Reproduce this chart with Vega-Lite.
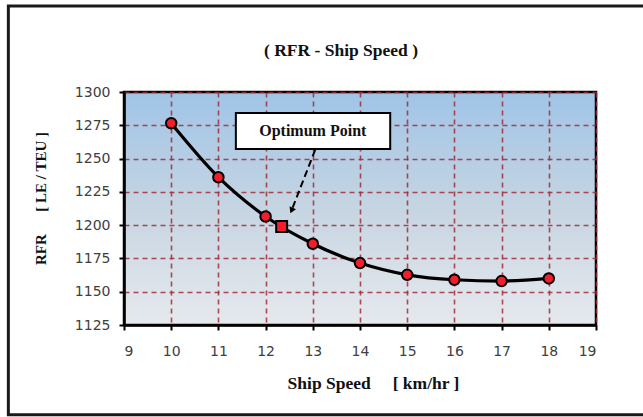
{
  "$schema": "https://vega.github.io/schema/vega-lite/v6.json",
  "autosize": "none",
  "width": 472,
  "height": 233,
  "padding": {"left": 124, "top": 92, "right": 47, "bottom": 92},
  "background": "white",
  "config": {
    "view": {
      "stroke": "#000000",
      "strokeWidth": 2.5,
      "fill": {"gradient": "linear", "x1": 0, "y1": 0, "x2": 0, "y2": 1, "stops": [{"offset": 0, "color": "#A0C4E7"}, {"offset": 0.5, "color": "#C6D5E2"}, {"offset": 1, "color": "#E6E9ED"}]}
    },
    "axis": {
      "labelFont": "DejaVu Sans",
      "labelFontSize": 14,
      "labelColor": "#404040",
      "labelOverlap": false,
      "format": "d",
      "tickCount": 20,
      "tickColor": "#000000",
      "tickSize": 5,
      "tickWidth": 2,
      "domainColor": "#000000",
      "domainWidth": 2.5,
      "gridColor": "#A02C38",
      "gridDash": [5, 4],
      "gridWidth": 1.6,
      "gridOpacity": 0.85,
      "titleFont": "Liberation Serif",
      "titleFontWeight": "bold",
      "titleFontSize": 15,
      "titleColor": "#111111"
    }
  },
  "title": {
    "text": "( RFR - Ship Speed )",
    "font": "Liberation Serif",
    "fontSize": 17.5,
    "fontWeight": "bold",
    "color": "#111111",
    "offset": -55,
    "dx": -19
  },
  "datasets": {
    "curve": [
      {"speed": 10, "rfr": 1276.5},
      {"speed": 11, "rfr": 1236},
      {"speed": 12, "rfr": 1206.5},
      {"speed": 13, "rfr": 1186},
      {"speed": 14, "rfr": 1171.5},
      {"speed": 15, "rfr": 1162.7},
      {"speed": 16, "rfr": 1159},
      {"speed": 17, "rfr": 1158},
      {"speed": 18, "rfr": 1160}
    ],
    "optimum": [{"speed": 12.34, "rfr": 1199}],
    "box": [{"x1": 11.37, "x2": 14.64, "y1": 1257.2, "y2": 1284.2, "tx": 13.0, "ty": 1270.7, "label": "Optimum Point"}],
    "arrow": [{"xs": 13.05, "ys": 1256.5, "xe": 12.55, "ye": 1211}],
    "frame": [{"x1": 6.55, "x2": 30, "y1": 1057.5, "y2": 1364.5}]
  },
  "layer": [
    {
      "data": {"name": "curve"},
      "mark": {"type": "line", "color": "#000000", "strokeWidth": 3.2, "interpolate": "monotone"},
      "encoding": {
        "x": {
          "field": "speed", "type": "quantitative",
          "scale": {"domain": [9, 19], "nice": false, "zero": false},
          "axis": {
            "values": [9, 10, 11, 12, 13, 14, 15, 16, 17, 18, 19],
            "tickCount": 20,
            "labelPadding": 14,
            "title": "Ship Speed\u00a0\u00a0\u00a0\u00a0\u00a0[ km/hr ]",
            "titleFontSize": 17.5,
            "titleX": 249, "titleY": 58, "titleAnchor": null, "titleAlign": "center", "titleBaseline": "middle"
          }
        },
        "y": {
          "field": "rfr", "type": "quantitative",
          "scale": {"domain": [1125, 1300], "nice": false, "zero": false},
          "axis": {
            "values": [1125, 1150, 1175, 1200, 1225, 1250, 1275, 1300],
            "tickCount": 20,
            "labelPadding": 9,
            "title": "RFR\u00a0\u00a0\u00a0\u00a0\u00a0\u00a0[ LE / TEU ]",
            "titleX": -84, "titleY": 106, "titleAngle": -90, "titleAlign": "center", "titleBaseline": "middle"
          }
        }
      }
    },
    {
      "data": {"name": "curve"},
      "mark": {"type": "point", "shape": "circle", "filled": true, "fill": "#F21E2C", "stroke": "#000000", "strokeWidth": 2, "size": 110, "opacity": 1},
      "encoding": {
        "x": {"field": "speed", "type": "quantitative"},
        "y": {"field": "rfr", "type": "quantitative"}
      }
    },
    {
      "data": {"name": "optimum"},
      "mark": {"type": "point", "shape": "square", "filled": true, "fill": "#F21E2C", "stroke": "#000000", "strokeWidth": 2, "size": 120, "opacity": 1},
      "encoding": {
        "x": {"field": "speed", "type": "quantitative"},
        "y": {"field": "rfr", "type": "quantitative"}
      }
    },
    {
      "data": {"name": "box"},
      "mark": {"type": "rect", "fill": "#FFFFFF", "stroke": "#000000", "strokeWidth": 2},
      "encoding": {
        "x": {"field": "x1", "type": "quantitative"},
        "x2": {"field": "x2"},
        "y": {"field": "y1", "type": "quantitative"},
        "y2": {"field": "y2"}
      }
    },
    {
      "data": {"name": "box"},
      "mark": {"type": "text", "font": "Liberation Serif", "fontWeight": "bold", "fontSize": 16, "color": "#111111", "align": "center", "baseline": "middle"},
      "encoding": {
        "x": {"field": "tx", "type": "quantitative"},
        "y": {"field": "ty", "type": "quantitative"},
        "text": {"field": "label"}
      }
    },
    {
      "data": {"name": "arrow"},
      "mark": {"type": "rule", "color": "#000000", "strokeWidth": 2, "strokeDash": [7, 4]},
      "encoding": {
        "x": {"field": "xs", "type": "quantitative"},
        "y": {"field": "ys", "type": "quantitative"},
        "x2": {"field": "xe"},
        "y2": {"field": "ye"}
      }
    },
    {
      "data": {"name": "arrow"},
      "mark": {"type": "point", "shape": "triangle-down", "filled": true, "color": "#000000", "size": 50, "angle": 24, "opacity": 1},
      "encoding": {
        "x": {"field": "xe", "type": "quantitative"},
        "y": {"field": "ye", "type": "quantitative"}
      }
    },
    {
      "data": {"name": "frame"},
      "mark": {"type": "rect", "fill": null, "fillOpacity": 0, "stroke": "#1a1a1a", "strokeWidth": 3, "clip": false},
      "encoding": {
        "x": {"field": "x1", "type": "quantitative"},
        "x2": {"field": "x2"},
        "y": {"field": "y1", "type": "quantitative"},
        "y2": {"field": "y2"}
      }
    }
  ]
}
